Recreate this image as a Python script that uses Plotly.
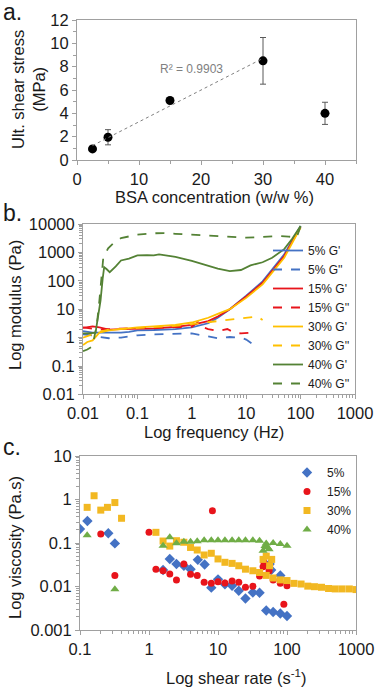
import plotly.graph_objects as go
import numpy as np

W, H = 375, 689
def px(x): return x / W
def py(y): return 1 - y / H

# ---------------- Panel a data ----------------
bsa_conc = [2.5, 5, 15, 30, 40]
shear_stress = [0.95, 1.95, 5.1, 8.5, 4.0]
shear_err = [0.0, 0.65, 0.0, 2.0, 0.95]
fit_n = 4  # trendline over first four points
r2_label = "R² = 0.9903"

# ---------------- Panel b data ----------------
f_5G1 = [0.01, 0.015, 0.02, 0.03, 0.05, 0.07, 0.1, 0.2, 0.5, 1, 2, 3, 5, 10, 20, 50, 100]
g_5G1 = [1.7, 1.5, 1.5, 1.5, 1.5, 1.6, 1.8, 1.85, 2.0, 2.3, 3.2, 5.0, 10, 30, 95, 850, 8500]
f_5G2 = [0.01, 0.015, 0.02, 0.03, 0.05, 0.1, 0.2, 0.5, 1, 2, 3, 5, 8, 10, 13]
g_5G2 = [1.3, 1.2, 1.05, 0.95, 1.0, 1.2, 1.3, 1.35, 1.4, 1.1, 0.95, 1.05, 1.0, 0.85, 0.6]
f_15G1 = [0.01, 0.015, 0.02, 0.03, 0.05, 0.1, 0.2, 0.5, 1, 2, 3, 5, 10, 20, 50, 100]
g_15G1 = [2.2, 2.5, 2.3, 1.9, 2.0, 2.0, 2.1, 2.4, 2.8, 3.8, 5.5, 10, 28, 85, 750, 8000]
f_15G2 = [0.01, 0.015, 0.02, 0.03, 0.05, 0.1, 0.2, 0.5, 1, 1.3, 1.6, 2, 3, 4.5, 6, 8, 12]
g_15G2 = [2.3, 2.0, 1.9, 2.0, 2.1, 2.2, 2.2, 2.3, 2.4, 3.5, 2.3, 2.0, 1.7, 2.0, 1.5, 1.4, 1.5]
f_30G1 = [0.01, 0.012, 0.015, 0.02, 0.03, 0.05, 0.1, 0.2, 0.5, 1, 2, 3, 5, 10, 20, 50, 100]
g_30G1 = [0.55, 0.7, 0.8, 1.5, 1.8, 2.0, 2.3, 2.5, 2.8, 3.4, 5.0, 6.8, 10, 25, 75, 650, 7500]
f_30G2 = [0.01, 0.015, 0.02, 0.03, 0.05, 0.1, 0.2, 0.5, 1, 2, 4, 8, 13, 16, 20]
g_30G2 = [1.0, 1.3, 1.6, 1.9, 2.0, 2.2, 2.4, 2.6, 3.0, 3.5, 4.0, 4.5, 5.3, 5.5, 4.2]
f_40G1 = [0.01, 0.013, 0.017, 0.019, 0.021, 0.023, 0.0245, 0.027, 0.031, 0.04, 0.05, 0.07,
          0.1, 0.15, 0.2, 0.25, 0.3, 0.5, 1, 2, 3, 5, 8, 12, 20, 30, 50, 70, 100]
g_40G1 = [1.4, 1.4, 1.5, 5, 20, 120, 300, 260, 200, 320, 520, 600,
          780, 800, 780, 850, 800, 700, 500, 330, 270, 220, 240, 350, 450, 650, 1300, 3000, 8500]
f_40G2 = [0.01, 0.012, 0.015, 0.018, 0.02, 0.022, 0.0236, 0.029, 0.04, 0.05, 0.1, 0.2, 0.3,
          0.5, 1, 2, 5, 10, 20, 40, 60, 85, 100]
g_40G2 = [0.33, 0.38, 0.5, 3, 20, 150, 650, 1400, 2500, 3200, 4200, 4700, 4800,
          4500, 4200, 3800, 3500, 3300, 3500, 3800, 3600, 3400, 8300]

# ---------------- Panel c data ----------------
sr_5 = [0.1, 0.128, 0.257, 0.32, 1.6, 2.0, 2.5, 3.2, 4.0, 5.1, 6.4, 8.0, 10, 12.6, 16, 20, 25,
        32, 40, 50, 56, 59, 63, 80, 80, 100]
v_5 = [0.21, 0.32, 0.167, 0.098, 0.024, 0.043, 0.033, 0.030, 0.025, 0.041, 0.032, 0.0094,
       0.0146, 0.0112, 0.0104, 0.0080, 0.0053, 0.0073, 0.0072, 0.0028, 0.033, 0.024, 0.0026,
       0.0024, 0.018, 0.0021]
sr_15 = [0.2, 0.32, 1.0, 1.26, 1.6, 2.0, 2.5, 3.2, 4.0, 5.0, 6.3, 8.0, 8.3, 10, 12.6, 16, 20,
         25, 32, 40, 45, 46, 55, 56, 63, 80, 90, 100]
v_15 = [0.16, 0.018, 0.176, 0.025, 0.023, 0.0194, 0.0141, 0.033, 0.019, 0.018, 0.0125, 0.0118,
        0.55, 0.0128, 0.012, 0.0133, 0.0125, 0.0096, 0.0102, 0.0174, 0.0286, 0.037, 0.023,
        0.031, 0.0141, 0.0118, 0.0039, 0.0104]
sr_30 = [0.127, 0.16, 0.2, 0.25, 0.32, 0.4, 1.26, 1.6, 2.0, 2.5, 3.2, 4.0, 5.0, 6.3, 8.0, 10,
         12.6, 16, 20, 25, 32, 40, 45, 50, 50, 56, 60, 63, 80, 100, 126, 160, 200, 250, 316,
         400, 500, 630, 800, 1000]
v_30 = [0.66, 1.22, 0.57, 0.66, 0.85, 0.37, 0.176, 0.111, 0.085, 0.113, 0.104, 0.079, 0.069,
        0.053, 0.058, 0.043, 0.036, 0.034, 0.030, 0.025, 0.023, 0.021, 0.042, 0.050, 0.018,
        0.030, 0.042, 0.0157, 0.0142, 0.0137, 0.0118, 0.0114, 0.0102, 0.0099, 0.0096, 0.0090,
        0.0088, 0.0088, 0.0088, 0.0085]
sr_40 = [0.127, 0.32, 1.6, 2.0, 2.5, 3.2, 4.0, 5.0, 6.3, 8.0, 10, 12.6, 16, 20, 25, 32, 40,
         45, 48, 50, 52, 55, 63, 80, 100]
v_40 = [0.15, 0.0086, 0.087, 0.135, 0.099, 0.107, 0.107, 0.11, 0.115, 0.115, 0.115, 0.115,
        0.115, 0.115, 0.115, 0.115, 0.113, 0.066, 0.085, 0.098, 0.08, 0.072, 0.10, 0.095, 0.087]

BLUE, RED, GOLD, GREEN_D, GREEN_L = "#4472C4", "#E8141B", "#FFC000", "#548235", "#70AD47"
FONT = "Liberation Sans, Arial, sans-serif"
TXT = "#1a1a1a"
FRAME = "#A0A0A0"
TICKF = 16.5
TITLEF = 16.5

fig = go.Figure()

# ---- panel a ----
fig.add_trace(go.Scatter(
    x=bsa_conc, y=shear_stress, mode="markers",
    marker=dict(color="black", size=9),
    error_y=dict(type="data", array=shear_err, color="#595959", thickness=1, width=3),
    xaxis="x", yaxis="y", showlegend=False))
coef = np.polyfit(bsa_conc[:fit_n], shear_stress[:fit_n], 1)
fx = [bsa_conc[0], bsa_conc[fit_n - 1]]
fig.add_trace(go.Scatter(
    x=fx, y=list(np.polyval(coef, fx)), mode="lines",
    line=dict(color="#808080", width=1, dash="dot"),
    xaxis="x", yaxis="y", showlegend=False))

# ---- panel b ----
b_series = [
    ("5% G'", f_5G1, g_5G1, BLUE, "solid"),
    ("5% G''", f_5G2, g_5G2, BLUE, "dash"),
    ("15% G'", f_15G1, g_15G1, RED, "solid"),
    ("15% G''", f_15G2, g_15G2, RED, "dash"),
    ("30% G'", f_30G1, g_30G1, GOLD, "solid"),
    ("30% G''", f_30G2, g_30G2, GOLD, "dash"),
    ("40% G'", f_40G1, g_40G1, GREEN_D, "solid"),
    ("40% G''", f_40G2, g_40G2, GREEN_D, "dash"),
]
for name, xs, ys, col, dash in b_series:
    fig.add_trace(go.Scatter(x=xs, y=ys, mode="lines", name=name,
                             line=dict(color=col, width=1.8, dash=dash),
                             xaxis="x2", yaxis="y2", legend="legend"))

# ---- panel c ----
c_series = [
    ("5%", sr_5, v_5, BLUE, "diamond", 8),
    ("15%", sr_15, v_15, RED, "circle", 7),
    ("30%", sr_30, v_30, "#F2B822", "square", 7),
    ("40%", sr_40, v_40, GREEN_L, "triangle-up", 8),
]
for name, xs, ys, col, sym, sz in c_series:
    fig.add_trace(go.Scatter(x=xs, y=ys, mode="markers", name=name,
                             marker=dict(color=col, symbol=sym, size=sz, line=dict(width=0)),
                             xaxis="x3", yaxis="y3", legend="legend2"))

def log_minor(lo, hi):
    vals = []
    for e in range(lo, hi):
        for m in range(2, 10):
            vals.append(m * 10.0 ** e)
    return vals

axis_common = dict(showline=True, mirror=True, linecolor=FRAME, linewidth=1,
                   ticks="outside", ticklen=4, tickcolor=FRAME, showgrid=False,
                   zeroline=False, automargin=False,
                   tickfont=dict(size=TICKF, color=TXT, family=FONT))

fig.update_layout(
    width=W, height=H, margin=dict(l=0, r=0, t=0, b=0, pad=0, autoexpand=False),
    paper_bgcolor="white", plot_bgcolor="white",
    font=dict(family=FONT, color=TXT),
    xaxis=dict(domain=[px(77), px(356)], range=[0, 45], tickvals=[0, 10, 20, 30, 40],
               minor=dict(dtick=5, ticks="outside", ticklen=3, tickcolor=FRAME),
               anchor="y", **axis_common),
    yaxis=dict(domain=[py(160), py(20)], range=[0, 12], dtick=2,
               minor=dict(dtick=1, ticks="outside", ticklen=3, tickcolor=FRAME),
               anchor="x", **axis_common),
    xaxis2=dict(domain=[px(83), px(355)], type="log", range=[-2, 3],
                tickvals=[0.01, 0.1, 1, 10, 100, 1000],
                ticktext=["0.01", "0.1", "1", "10", "100", "1000"],
                minor=dict(tickvals=log_minor(-2, 3), ticks="outside", ticklen=3, tickcolor=FRAME),
                anchor="y2", **axis_common),
    yaxis2=dict(domain=[py(394.4), py(224)], type="log", range=[-2, 4],
                tickvals=[0.01, 0.1, 1, 10, 100, 1000, 10000],
                ticktext=["0.01", "0.1", "1", "10", "100", "1000", "10000"],
                minor=dict(tickvals=log_minor(-2, 4), ticks="outside", ticklen=3, tickcolor=FRAME),
                anchor="x2", **axis_common),
    xaxis3=dict(domain=[px(80), px(356)], type="log", range=[-1, 3],
                tickvals=[0.1, 1, 10, 100, 1000],
                ticktext=["0.1", "1", "10", "100", "1000"],
                minor=dict(tickvals=log_minor(-1, 3), ticks="outside", ticklen=3, tickcolor=FRAME),
                anchor="y3", **axis_common),
    yaxis3=dict(domain=[py(630), py(456)], type="log", range=[-3, 1],
                tickvals=[0.001, 0.01, 0.1, 1, 10],
                ticktext=["0.001", "0.01", "0.1", "1", "10"],
                minor=dict(tickvals=log_minor(-3, 1), ticks="outside", ticklen=3, tickcolor=FRAME),
                anchor="x3", **axis_common),
    legend=dict(x=px(268), y=py(398), xanchor="left", yanchor="bottom",
                bgcolor="rgba(0,0,0,0)", font=dict(size=12, color=TXT, family=FONT),
                tracegroupgap=0),
    legend2=dict(x=px(287), y=py(458), xanchor="left", yanchor="top",
                 bgcolor="rgba(0,0,0,0)", font=dict(size=12, color=TXT, family=FONT)),
)

ann = [
    dict(text="a.", x=px(1), y=py(12), font=dict(size=23)),
    dict(text="b.", x=px(1), y=py(213), font=dict(size=23)),
    dict(text="c.", x=px(1), y=py(447), font=dict(size=23)),
    dict(text="Ult. shear stress<br>(MPa)", x=px(28), y=py(90), textangle=-90,
         font=dict(size=TITLEF), xanchor="center"),
    dict(text="BSA concentration (w/w %)", x=px(214), y=py(197), font=dict(size=TITLEF),
         xanchor="center"),
    dict(text=r2_label, x=px(191), y=py(69), font=dict(size=12, color="#808080"),
         xanchor="center"),
    dict(text="Log modulus (Pa)", x=px(15), y=py(305), textangle=-90,
         font=dict(size=TITLEF), xanchor="center"),
    dict(text="Log frequency (Hz)", x=px(214), y=py(432), font=dict(size=TITLEF),
         xanchor="center"),
    dict(text="Log viscosity (Pa.s)", x=px(15), y=py(548), textangle=-90,
         font=dict(size=TITLEF), xanchor="center"),
    dict(text="Log shear rate (s<sup>-1</sup>)", x=px(236), y=py(677), font=dict(size=TITLEF),
         xanchor="center"),
]
for a in ann:
    a.setdefault("xanchor", "left")
    fig.add_annotation(xref="paper", yref="paper", showarrow=False, yanchor="middle", **a)

fig.write_html("out.html", config={"displayModeBar": False},
               post_script="document.body.style.margin='0px';")
